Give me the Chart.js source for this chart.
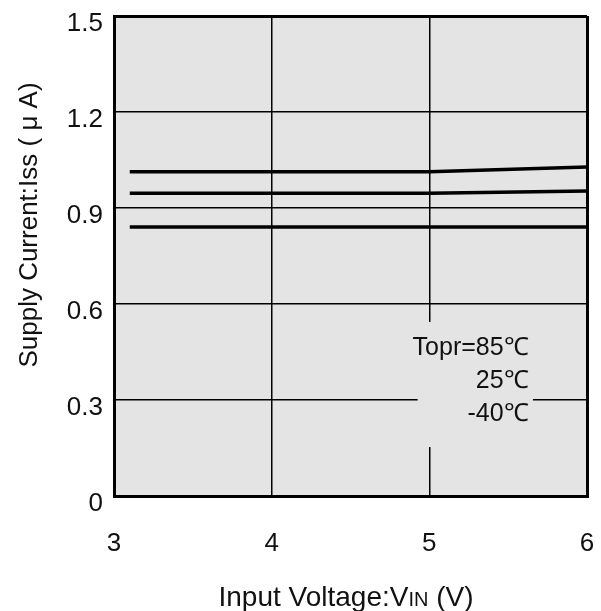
<!DOCTYPE html>
<html>
<head>
<meta charset="utf-8">
<script src="https://cdn.jsdelivr.net/npm/chart.js@4.4.1/dist/chart.umd.min.js"></script>
<style>
  body { margin: 0; background: #fff; }
</style>
</head>
<body>
<canvas id="iss" width="601" height="611"></canvas>
<script>
// input voltage points (V)
const vin = [3.1, 4, 5, 6];
// supply current (uA) per temperature
const iss85 = [1.013, 1.013, 1.013, 1.028];
const iss25 = [0.946, 0.946, 0.946, 0.953];
const issM40 = [0.841, 0.841, 0.841, 0.841];
const xTicks = [3, 4, 5, 6];
const yTicks = [0, 0.3, 0.6, 0.9, 1.2, 1.5];
const tempLabels = ["Topr=85\u2103", "25\u2103", "-40\u2103"];

const FONT = "'Liberation Sans', Arial, sans-serif";

function pts(ys) {
  return vin.map((v, i) => ({ x: v, y: ys[i] }));
}

function lineSet(label, ys) {
  return {
    label: label,
    data: pts(ys),
    borderColor: "#000",
    borderWidth: 3.5,
    pointRadius: 0,
    tension: 0,
    fill: false
  };
}

const plotBg = {
  id: "plotBg",
  beforeDraw(chart) {
    const { ctx, chartArea: a } = chart;
    ctx.save();
    ctx.fillStyle = "#e4e4e4";
    ctx.fillRect(a.left, a.top, a.right - a.left, a.bottom - a.top);
    ctx.restore();
  },
  beforeDatasetsDraw(chart) {
    // clear the grid behind the temperature labels
    const { ctx, scales: { x, y } } = chart;
    ctx.save();
    ctx.fillStyle = "#e4e4e4";
    const l = x.getPixelForValue(4.926), r = x.getPixelForValue(5.657);
    const t = y.getPixelForValue(0.544), b = y.getPixelForValue(0.153);
    ctx.fillRect(l, t, r - l, b - t);
    ctx.restore();
  },
  afterDraw(chart) {
    const { ctx, scales: { x, y } } = chart;
    ctx.save();
    ctx.fillStyle = "#111";
    // temperature labels
    ctx.font = "25px " + FONT;
    ctx.textAlign = "right";
    ctx.textBaseline = "middle";
    const ly = [0.4625, 0.359, 0.256];
    tempLabels.forEach((s, i) => {
      ctx.fillText(s, x.getPixelForValue(5.63), y.getPixelForValue(ly[i]));
    });

    // x axis title with small caps "IN"
    ctx.textAlign = "left";
    ctx.textBaseline = "alphabetic";
    const big = "28px " + FONT, small = "20px " + FONT;
    const p1 = "Input Voltage:V", p2 = "IN", p3 = " (V)";
    ctx.font = big; const w1 = ctx.measureText(p1).width, w3 = ctx.measureText(p3).width;
    ctx.font = small; const w2 = ctx.measureText(p2).width;
    let tx = 346 - (w1 + w2 + w3) / 2;
    const by = 606;
    ctx.font = big; ctx.fillText(p1, tx, by); tx += w1;
    ctx.font = small; ctx.fillText(p2, tx, by); tx += w2;
    ctx.font = big; ctx.fillText(p3, tx, by);

    // y axis title
    ctx.translate(30, 225);
    ctx.rotate(-Math.PI / 2);
    ctx.textAlign = "center";
    ctx.textBaseline = "middle";
    ctx.font = "26px " + FONT;
    ctx.fillText("Supply Current:Iss ( \u03bc A)", 0, 0);
    ctx.restore();
  }
};

const edgeWidth = (min, max) => (c) => {
  const v = c.tick ? c.tick.value : null;
  return (v === min || v === max) ? 3 : 1.5;
};

new Chart(document.getElementById("iss"), {
  type: "line",
  data: {
    datasets: [
      lineSet("85", iss85),
      lineSet("25", iss25),
      lineSet("-40", issM40)
    ]
  },
  options: {
    responsive: false,
    animation: false,
    layout: { padding: { top: 16, right: 14, left: 0, bottom: 0 } },
    plugins: { legend: { display: false }, tooltip: { enabled: false } },
    scales: {
      x: {
        type: "linear",
        min: 3,
        max: 6,
        afterBuildTicks: (s) => { s.ticks = xTicks.map(v => ({ value: v })); },
        afterFit: (s) => { s.height = 115; s.paddingLeft = 0; s.paddingRight = 0; },
        grid: { color: "#000", lineWidth: edgeWidth(3, 6), drawTicks: false },
        border: { color: "#000", width: 3 },
        ticks: { color: "#111", padding: 32, font: { family: FONT, size: 26 } }
      },
      y: {
        min: 0,
        max: 1.5,
        afterBuildTicks: (s) => { s.ticks = yTicks.map(v => ({ value: v })); },
        afterFit: (s) => { s.width = 114; s.paddingTop = 0; s.paddingBottom = 0; },
        grid: { color: "#000", lineWidth: edgeWidth(0, 1.5), drawTicks: false },
        border: { color: "#000", width: 3 },
        ticks: {
          color: "#111",
          padding: 11,
          labelOffset: 8,
          font: { family: FONT, size: 26 },
          callback: (v) => v === 0 ? "0" : v.toFixed(1)
        }
      }
    }
  },
  plugins: [plotBg]
});
</script>
</body>
</html>
